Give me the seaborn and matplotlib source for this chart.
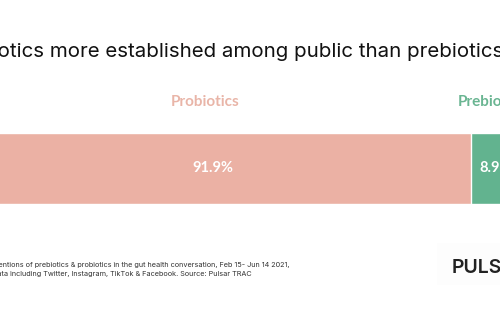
import matplotlib
matplotlib.use("Agg")
import matplotlib.pyplot as plt
import seaborn as sns
import pandas as pd
from matplotlib.patches import Rectangle

# ---- data ----
categories = ["Probiotics", "Prebiotics"]
values = [91.9, 8.9]
value_labels = ["91.9%", "8.9%"]
title = "Probiotics more established among public than prebiotics"
footnote = ["Mentions of prebiotics & probiotics in the gut health conversation, Feb 15- Jun 14 2021,",
            "Data including Twitter, Instagram, TikTok & Facebook. Source: Pulsar TRAC"]
logo = "PULSAR"

colors = ["#EBB1A4", "#62B38F"]
head_colors = ["#E9B5A8", "#6AB592"]

sns.set_theme(style="white")
plt.rcParams["font.family"] = ["Inter", "DejaVu Sans"]

W, H = 500, 330
fig = plt.figure(figsize=(5, 3.3), dpi=100)
fig.patch.set_facecolor("white")

# bar axes (extends past figure edges, as in cropped reference)
left_px, right_px = -45, 521
top_px, bot_px = 133, 204
ax = fig.add_axes([left_px / W, (H - bot_px) / H, (right_px - left_px) / W, (bot_px - top_px) / H])

cum = [sum(values[:i + 1]) for i in range(len(values))]
starts = [0] + cum[:-1]
for i in reversed(range(len(values))):
    df = pd.DataFrame({"cat": ["all"], "val": [cum[i]]})
    sns.barplot(data=df, x="val", y="cat", orient="h", color=colors[i],
                saturation=1, width=1.0, edgecolor="white", linewidth=1.0, ax=ax)
ax.set_xlim(0, sum(values))
ax.set_ylim(0.5, -0.5)
ax.axis("off")

for i, (s, v) in enumerate(zip(starts, values)):
    cx = s + v / 2
    ax.text(cx, 0, value_labels[i], ha="center", va="center", color="white",
            fontsize=10.5, fontweight="bold", family=["Lato", "DejaVu Sans"])
    ax.annotate(categories[i], xy=(cx, -0.5), xycoords="data",
                xytext=(-6 if i == 0 else -3, 22), textcoords="offset points",
                ha="center", va="center", color=head_colors[i],
                fontsize=11, fontweight="bold", family=["Lato", "DejaVu Sans"])

# title
fig.text(503 / W, (H - 57) / H, title, ha="right", va="baseline",
         fontsize=14.75, color="#111111")

# footnote
for k, line in enumerate(footnote):
    fig.text(-8 / W, (H - 265 - 9 * k) / H, line, ha="left", va="center",
             fontsize=5.25, color="#333333")

# logo box + text
fig.patches.append(Rectangle((437 / W, (H - 285) / H), 80 / W, 42 / H,
                             transform=fig.transFigure, facecolor="#FDFDFD",
                             edgecolor="none", zorder=0))
fig.text(452 / W, (H - 268) / H, logo, ha="left", va="center",
         fontsize=14, fontweight="semibold", color="#222222")

fig.savefig("out.png", dpi=100)
